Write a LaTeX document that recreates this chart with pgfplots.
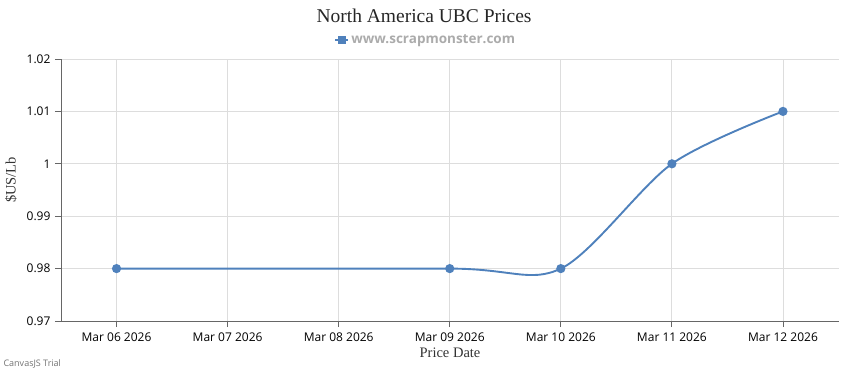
\documentclass[border=0pt]{standalone}
\usepackage{fontspec}
\setmainfont{Liberation Serif}
\newfontfamily\tickfont{Open Sans}
\usepackage{pgfplots}
\pgfplotsset{compat=1.18}
\definecolor{ser}{HTML}{4F81BC}
\definecolor{axl}{HTML}{666666}
\definecolor{grd}{HTML}{DDDDDD}
\begin{document}
\begin{tikzpicture}[x=1pt,y=1pt]
\path[use as bounding box] (0,0) rectangle (850,370);
\begin{axis}[
  at={(61pt,49pt)}, anchor=south west,
  scale only axis, width=777.5pt, height=262pt,
  xmin=-0.5, xmax=6.5, ymin=0.97, ymax=1.02,
  axis lines=left, axis line style={draw=axl, line width=0.9pt, -},
  xtick={0,1,2,3,4,5,6},
  xticklabels={Mar 06 2026,Mar 07 2026,Mar 08 2026,Mar 09 2026,Mar 10 2026,Mar 11 2026,Mar 12 2026},
  ytick={0.97,0.98,0.99,1,1.01,1.02},
  yticklabels={0.97,0.98,0.99,1,1.01,1.02},
  grid=major, grid style={draw=grd, line width=0.8pt},
  tick style={draw=axl, line width=0.8pt},
  major tick length=6pt, tick align=outside,
  xtick pos=bottom, ytick pos=left,
  ticklabel style={font=\tickfont\fontsize{12}{14}\selectfont, text=black},
  xticklabel style={yshift=-2pt},
  yticklabel style={xshift=-1pt},
  legend style={draw=none, fill=none, at={(0.469,1.0725)}, anchor=center,
    font=\tickfont\bfseries\fontsize{13.5}{15}\selectfont, text=black!33,
    legend cell align=left},
  legend image code/.code={\draw[ser, line width=2.2pt] (0pt,0pt) -- (13pt,0pt);
    \fill[ser] (3.5pt,-3pt) rectangle (9.5pt,3pt);},
  clip=false,
]
\addplot[ser, line width=1.9pt, smooth, tension=0.5, mark=*, mark size=3.6pt, mark options={fill=ser, draw=ser}]
  coordinates {(0,0.98) (3,0.98) (4,0.98) (5,1.00) (6,1.01)};
\addlegendentry{www.scrapmonster.com}
\end{axis}
\node[font=\fontsize{19.5}{22}\selectfont, text=black!85] at (424,354) {North America UBC Prices};
\node[font=\fontsize{14.5}{17}\selectfont, text=black!80] at (450,17) {Price Date};
\node[font=\fontsize{14.5}{17}\selectfont, text=black!80, rotate=90] at (11,190) {\$US/Lb};
\node[font=\tickfont\fontsize{9}{10}\selectfont, text=black!55, anchor=west] at (0,6) {CanvasJS Trial};
\end{tikzpicture}
\end{document}
